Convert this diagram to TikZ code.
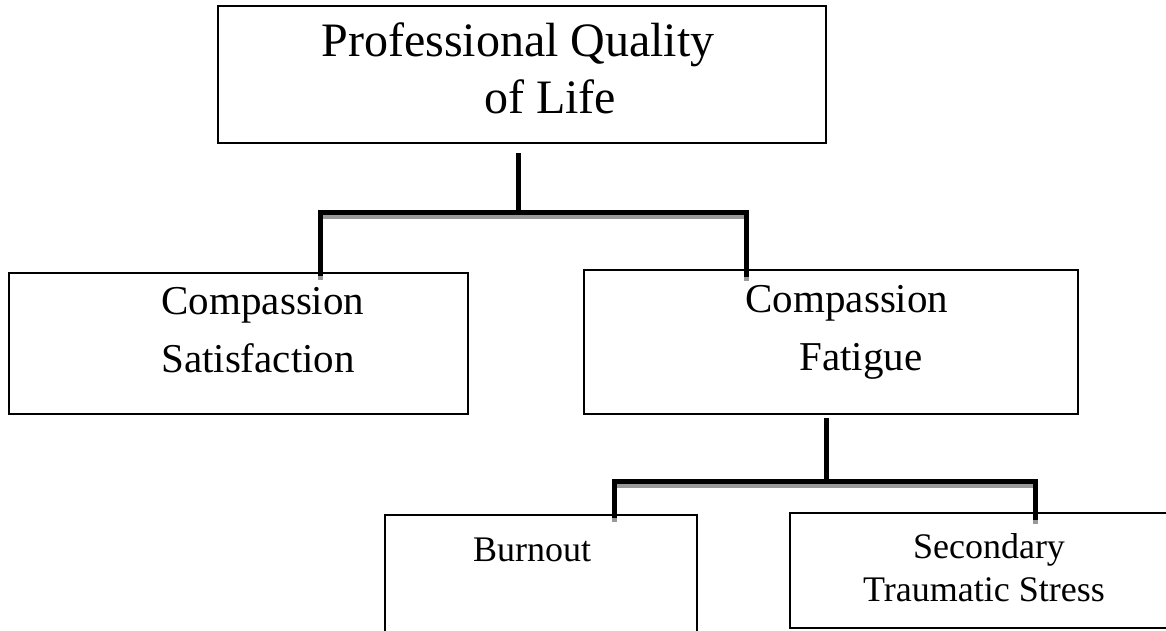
\documentclass[tikz,border=0pt]{standalone}
\usepackage{fontspec}
\setmainfont{Liberation Serif}
\begin{document}
\begin{tikzpicture}[x=1pt,y=-1pt,
  box/.style={draw=black, line width=2.4pt, inner sep=0pt, outer sep=0pt, anchor=north west},
  huge/.style={font=\fontsize{48}{55}\selectfont, anchor=base, inner sep=0pt},
  big/.style={font=\fontsize{41}{47}\selectfont, anchor=base, inner sep=0pt},
  small/.style={font=\fontsize{36}{43}\selectfont, anchor=base, inner sep=0pt},
  conn/.style={draw=black, line width=5pt, line cap=rect},
  shadowline/.style={draw=black!40, line width=5pt, line cap=rect}]
\useasboundingbox (0,0) rectangle (1166,630);
\clip (0,0) rectangle (1166,630);
\fill[white] (0,0) rectangle (1166,630);

% boxes
\node[box, minimum width=608pt, minimum height=137pt] (top) at (218,6) {};
\node[box, minimum width=459pt, minimum height=141pt] (sat) at (9,273) {};
\node[box, minimum width=494pt, minimum height=144pt] (fat) at (584,270) {};
\node[box, minimum width=312pt, minimum height=160pt] (burn) at (385,515) {};
\node[box, minimum width=400pt, minimum height=115pt] (sec) at (790,513) {};

% texts
\node[huge] (topa) at (518,56) {Professional Quality};
\node[huge] (topb) at (550,113) {of Life};
\node[big] (sata) at (263,314) {Compassion};
\node[big] (satb) at (258,372) {Satisfaction};
\node[big] (fata) at (847,312) {Compassion};
\node[big] (fatb) at (861,370) {Fatigue};
\node[small] (burna) at (532,561) {Burnout};
\node[small] (seca) at (989,558) {Secondary};
\node[small] (secb) at (984,601) {Traumatic Stress};

% junction coordinates
\coordinate (t1) at (518,155);
\coordinate (j1) at (518,212);
\coordinate (l1) at (320,212);
\coordinate (r1) at (746,212);
\coordinate (t2) at (826,420);
\coordinate (j2) at (826,481);
\coordinate (l2) at (614,481);
\coordinate (r2) at (1035,481);

% shadows
\begin{scope}[transform canvas={shift={(0.5pt,-4pt)}}]
  \draw[shadowline] (l1) -- (r1);
  \draw[shadowline] (l1) -- (l1 |- sat.north);
  \draw[shadowline] (r1) -- ([yshift=-4pt]r1 |- fat.north);
  \draw[shadowline] (l2) -- (r2);
  \draw[shadowline] (l2) -- (l2 |- burn.north);
  \draw[shadowline] (r2) -- ([yshift=-4pt]r2 |- sec.north);
\end{scope}

% connectors
\draw[conn] (t1) -- (j1);
\draw[conn] (l1) -- (r1);
\draw[conn] (l1) -- (l1 |- sat.north);
\draw[conn] (r1) -- ([yshift=-4pt]r1 |- fat.north);
\draw[conn] (t2) -- (j2);
\draw[conn] (l2) -- (r2);
\draw[conn] (l2) -- (l2 |- burn.north);
\draw[conn] (r2) -- ([yshift=-4pt]r2 |- sec.north);
\end{tikzpicture}
\end{document}
